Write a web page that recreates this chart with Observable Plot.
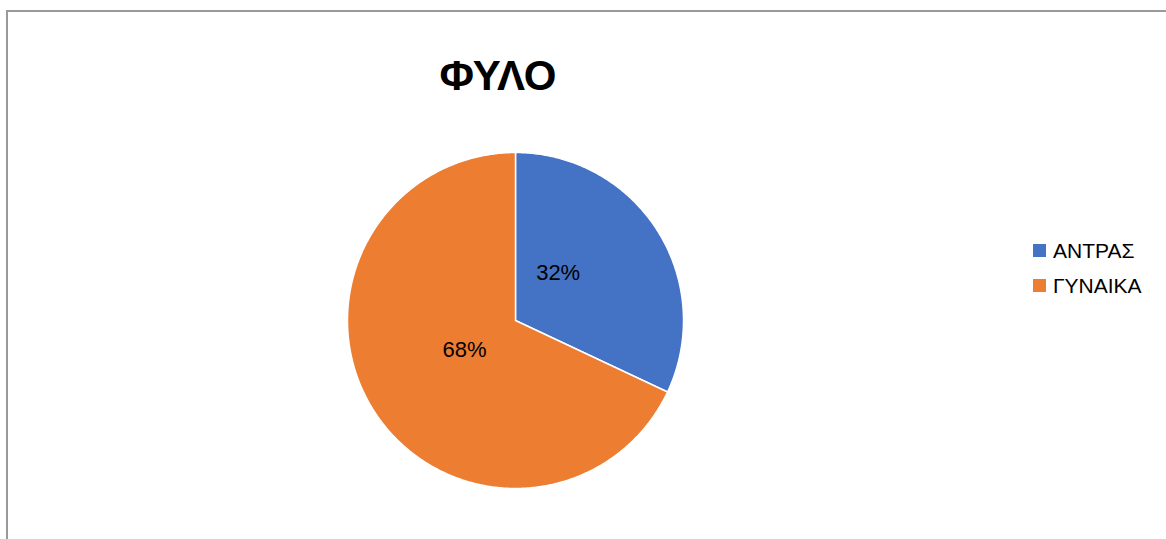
<!DOCTYPE html>
<html>
<head>
<meta charset="utf-8">
<script src="https://cdn.jsdelivr.net/npm/d3@7"></script>
<script src="https://cdn.jsdelivr.net/npm/@observablehq/plot@0.6"></script>
<style>
  html, body { margin: 0; padding: 0; width: 1166px; height: 539px; overflow: hidden; background: #fff; }
  #frame { position: absolute; left: 6px; top: 10px; width: 1200px; height: 600px; border: 2px solid #999; box-sizing: border-box; }
  #chart { position: absolute; left: 0; top: 0; }
  #title { position: absolute; left: 0; width: 996px; top: 52px; text-align: center; font-family: "Liberation Sans", Arial, sans-serif; font-weight: bold; font-size: 42px; color: #000; }
  #legend { position: absolute; left: 1033px; top: 233px; font-family: "Liberation Sans", Arial, sans-serif; font-size: 21px; color: #000; }
  .item { display: flex; align-items: center; height: 35px; }
  .sw { width: 13px; height: 13px; margin-right: 7px; }
</style>
</head>
<body>
<div id="frame"></div>
<div id="chart"></div>
<div id="title">ΦΥΛΟ</div>
<div id="legend"></div>
<script>
const title = "ΦΥΛΟ";
const categories = ["ΑΝΤΡΑΣ", "ΓΥΝΑΙΚΑ"];
const values = [32, 68];
const colors = ["#4472C4", "#ED7D31"];

const pie = d3.pie().sort(null).value(d => d.value)(categories.map((c, i) => ({category: c, value: values[i]})));
const total = d3.sum(values);

// polygon points for each slice (unit circle, angle clockwise from 12 o'clock)
const pts = [];
for (const a of pie) {
  const n = Math.max(2, Math.ceil((a.endAngle - a.startAngle) / 0.01));
  pts.push({category: a.data.category, x: 0, y: 0});
  for (let k = 0; k <= n; k++) {
    const t = a.startAngle + (a.endAngle - a.startAngle) * k / n;
    pts.push({category: a.data.category, x: Math.sin(t), y: Math.cos(t)});
  }
  pts.push({category: a.data.category, x: 0, y: 0});
}
const labels = pie.map(a => {
  const m = (a.startAngle + a.endAngle) / 2;
  const r = 0.36;
  const adj = a.index === 0 ? {dx: -0.05, dy: 0.09} : {dx: 0, dy: 0.02};
  return {text: Math.round(a.data.value / total * 100) + "%", x: r * Math.sin(m) + adj.dx, y: r * Math.cos(m) + adj.dy};
});

const plot = Plot.plot({
  width: 1166,
  height: 539,
  margin: 0,
  x: {domain: [-1, 1], range: [347, 683], axis: null},
  y: {domain: [-1, 1], range: [488, 152], axis: null},
  color: {domain: categories, range: colors},
  style: {background: "transparent", fontFamily: "Liberation Sans, Arial, sans-serif"},
  marks: [
    Plot.line(pts, {x: "x", y: "y", z: "category", fill: "category", stroke: "#fff", strokeWidth: 1.5, curve: "linear-closed"}),
    Plot.text(labels, {x: "x", y: "y", text: "text", fontSize: 22, fill: "#000"})
  ]
});
document.getElementById("chart").appendChild(plot);

const leg = document.getElementById("legend");
categories.forEach((c, i) => {
  const d = document.createElement("div");
  d.className = "item";
  d.innerHTML = `<span class="sw" style="background:${colors[i]}"></span><span>${c}</span>`;
  leg.appendChild(d);
});
</script>
</body>
</html>
